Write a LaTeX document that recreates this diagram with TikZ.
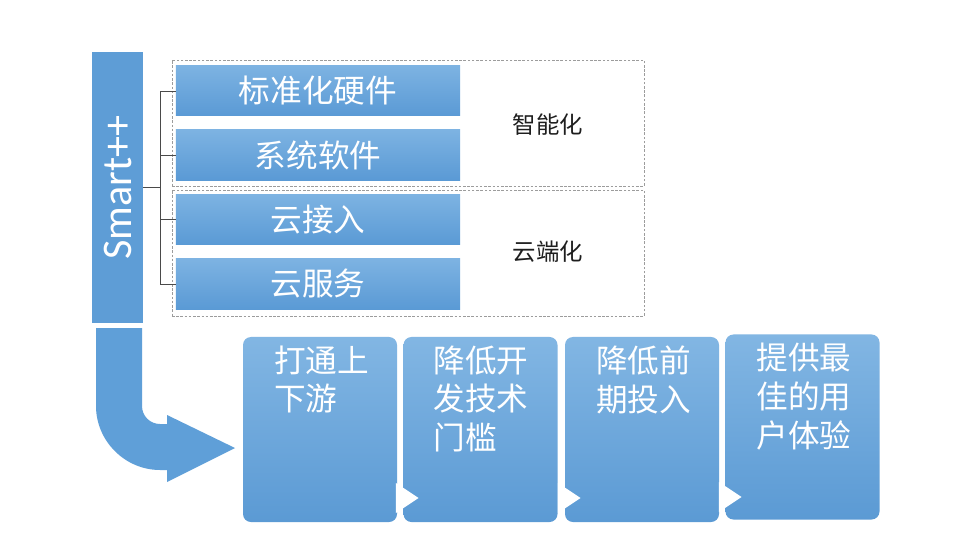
\documentclass[tikz,border=0pt]{standalone}
\usepackage{fontspec}
\usepackage{tikz}
\usetikzlibrary{positioning,shapes.geometric}
\newfontfamily\cjk{Noto Sans CJK SC}
\newfontfamily\smartfont{Carlito}
\definecolor{boxtop}{HTML}{82B6E3}
\definecolor{boxbot}{HTML}{5B9AD4}
\definecolor{itemtop}{HTML}{7DB3E2}
\definecolor{itembot}{HTML}{5A9AD5}
\definecolor{barblue}{HTML}{5E9DD6}
\definecolor{arrowblue}{HTML}{5F9FD8}
\definecolor{treegray}{HTML}{4A4A4A}
\definecolor{dashgray}{HTML}{9C9C9C}
\definecolor{labelink}{HTML}{1E1E1E}
\tikzset{
  smartbar/.style={fill=barblue,minimum width=8.13cm,minimum height=1.53cm,
                   inner sep=0pt,text=white,font=\smartfont\fontsize{36}{40}\selectfont},
  itembox/.style={top color=itemtop,bottom color=itembot,
                  minimum width=8.52cm,minimum height=1.5cm,inner sep=0pt,
                  text=white,font=\cjk\fontsize{27}{32}\selectfont},
  groupbox/.style={draw=dashgray,dash pattern=on 2.2pt off 1.4pt,line width=0.5pt,
                   minimum width=14.16cm,minimum height=3.78cm,inner sep=0pt},
  grouplabel/.style={text=labelink,inner sep=0pt,font=\cjk\fontsize{20}{24}\selectfont},
  stagebox/.style={top color=boxtop,bottom color=boxbot,rounded corners=0.24cm,
                   minimum width=4.62cm,minimum height=5.55cm,inner sep=0pt},
  stagetext/.style={text=white,align=left,inner sep=0pt,
                    font=\cjk\fontsize{27}{33}\selectfont},
  stagearr/.style={isosceles triangle,isosceles triangle stretches,fill=white,
                   inner sep=0pt,minimum height=0.68cm,minimum width=0.9cm},
  treeline/.style={draw=treegray,line width=0.7pt}
}

\begin{document}
\begin{tikzpicture}[x=0.03cm,y=-0.03cm]
  \useasboundingbox[fill=white] (0,0) rectangle (960,540);

  \node[groupbox] (g1) at (408,123) {};
  \node[groupbox] (g2) at (408,253) {};
  \node[grouplabel] (l1) at (548,125) {智能化};
  \node[grouplabel] (l2) at (548,252) {云端化};

  \node[smartbar,rotate=90] (smart) at (117.5,187.5) {Smart++};

  \node[itembox] (h1) at (318,91) {标准化硬件};
  \node[itembox] (h2) at (318,155) {系统软件};
  \node[itembox] (h3) at (318,219.5) {云接入};
  \node[itembox] (h4) at (318,284) {云服务};

  \coordinate (fork) at (160,187.5);
  \draw[treeline] (smart.south) -- (fork);
  \draw[treeline] (fork) |- (h1.west);
  \draw[treeline] (fork) |- (h2.west);
  \draw[treeline] (fork) |- (h3.west);
  \draw[treeline] (fork) |- (h4.west);

  \fill[arrowblue] (96,328) -- (96,406) .. controls (96,441) and (125,470) .. (160,470)
    -- (167,470) -- (167,482) -- (235,448) -- (167,415) -- (167,424) -- (160,424)
    .. controls (150,424) and (142,416) .. (142,406) -- (142,328) -- cycle;

  \node[stagebox] (s1) at (320,429.5) {};
  \node[stagebox] (s2) at (480.5,429.5) {};
  \node[stagebox] (s3) at (642,429.5) {};
  \node[stagebox] (s4) at (802.5,427) {};

  \node[stagetext,below right=0.26cm and 0.93cm of s1.north west] (t1) {打通上\\下游};
  \node[stagetext,below right=0.26cm and 0.9cm of s2.north west] (t2) {降低开\\发技术\\门槛};
  \node[stagetext,below right=0.26cm and 0.93cm of s3.north west] (t3) {降低前\\期投入};
  \node[stagetext,below right=0.26cm and 0.93cm of s4.north west] (t4) {提供最\\佳的用\\户体验};

  \node[stagearr] (a1) at (404,498) {};
  \node[stagearr] (a2) at (566,498) {};
  \node[stagearr] (a3) at (727,497) {};
\end{tikzpicture}
\end{document}
